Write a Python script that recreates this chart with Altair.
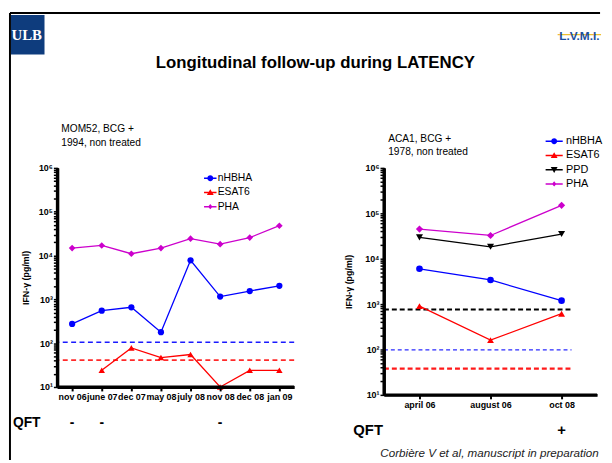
import json
import altair as alt
import pandas as pd

FONT = "Liberation Sans"

# ---------------- data ----------------
left_dates = ["nov 06", "june 07", "dec 07", "may 08", "july 08", "nov 08", "dec 08", "jan 09"]
left_nhbha = [275, 550, 660, 178, 7800, 1160, 1550, 2040]
left_esat6 = [None, 24, 78, 47, 55, 10, 24, 24]
left_pha = [14800, 17000, 11000, 14800, 24300, 18200, 25700, 48000]
left_qft = ["-", "-", "", "", "", "-", "", ""]
left_cut_nhbha = 105
left_cut_esat6 = 41

right_dates = ["april 06", "august 06", "oct 08"]
right_nhbha = [6000, 3400, 1190]
right_esat6 = [900, 161, 615]
right_ppd = [29500, 18300, 35000]
right_pha = [45000, 32500, 150000]
right_qft = ["", "", "+"]
right_cut_ppd = 760
right_cut_nhbha = 98
right_cut_esat6 = 38
right_cut_end = 2.14

left_series = ["nHBHA", "ESAT6", "PHA"]
right_series = ["nHBHA", "ESAT6", "PPD", "PHA"]
series_colors = {"nHBHA": "#0000ff", "ESAT6": "#ff0000", "PPD": "#000000", "PHA": "#cc00cc"}
series_shapes = {"nHBHA": "circle", "ESAT6": "triangle-up", "PPD": "triangle-down", "PHA": "diamond"}

decades = [10, 100, 1000, 10000, 100000, 1000000]
sups = ["¹", "²", "³", "⁴", "⁵", "⁶"]
ytick_vals = [m * 10 ** e for e in range(1, 6) for m in range(1, 10)] + [1000000]

ylabel_expr = ("indexof(" + json.dumps(decades) + ", datum.value) >= 0 ? '10' + "
               + json.dumps(sups, ensure_ascii=False) + "[indexof(" + json.dumps(decades)
               + ", datum.value)] : ''")


def long_table(dates, cols):
    rows = []
    for name, vals in cols.items():
        for i, v in enumerate(vals):
            if v is not None:
                rows.append({"idx": i, "date": dates[i], "series": name, "value": v})
    return pd.DataFrame(rows)


def qft_table(marks):
    return pd.DataFrame([{"idx": i, "qft": q} for i, q in enumerate(marks) if q])


MARKERS = {
    "circle": "M0.47,0A0.47,0.47 0 1,1 -0.47,0A0.47,0.47 0 1,1 0.47,0Z",
    "triangle-up": "M0,-0.52L0.55,0.42L-0.55,0.42Z",
    "triangle-down": "M0,0.52L-0.55,-0.42L0.55,-0.42Z",
    "diamond": "M0,-0.42L0.36,0L0,0.42L-0.36,0Z",
}


def legend_path(shape, half):
    return f"M{-half},-0.12H{half}V0.12H{-half}Z" + MARKERS[shape]


ONE = alt.Data(values=[{}])


def deco_text(txt, x, y, **kw):
    return alt.Chart(ONE).mark_text(**kw).encode(
        x=alt.value(x), y=alt.value(y), text=alt.value(txt))


AXIS_STYLE = dict(domainColor="#000000", domainWidth=3, domainOpacity=1,
                  ticks=True, tickColor="#000000", tickOpacity=1, grid=False, zindex=2)


def y_axis(title_pad):
    return alt.Axis(values=ytick_vals, labelExpr=ylabel_expr, title="IFN-γ (pg/ml)",
                    titleFont=FONT, titleFontSize=9, titleFontWeight="bold", titleColor="black",
                    titlePadding=title_pad, labelFont=FONT, labelFontSize=9,
                    labelFontWeight="bold", labelColor="black", labelPadding=1,
                    labelOverlap=False, tickSize=4, tickWidth=1.5, **AXIS_STYLE)


def x_axis(dates):
    return alt.Axis(values=list(range(len(dates))),
                    labelExpr=json.dumps(dates) + "[datum.value]",
                    title=None, labelFont=FONT, labelFontSize=9, labelFontWeight="bold",
                    labelColor="black", labelPadding=2, labelFlush=False, labelOverlap=False,
                    tickSize=4, tickWidth=2, **AXIS_STYLE)


def panel(dates, cols, series, sizes, leg_half, leg_x, leg_y, leg_font, leg_offset,
          title_pad, width, height, qft, qft_font, qft_x, qft_y, extra):
    table = long_table(dates, cols)
    xs = alt.Scale(domain=[-0.5, len(dates) - 0.5], nice=False, zero=False)
    ys = alt.Scale(type="log", domain=[10, 1000000], nice=False)
    xa = x_axis(dates)
    ya = y_axis(title_pad)
    cols_range = [series_colors[s] for s in series]
    base = alt.Chart(table)
    y_line = alt.Chart(ONE).mark_rule(color="black", strokeWidth=3).encode(
        x=alt.datum(-0.5, scale=xs, axis=xa))
    x_line = alt.Chart(ONE).mark_rule(color="black", strokeWidth=3).encode(
        y=alt.datum(10, scale=ys, axis=ya))
    lines = base.mark_line(strokeWidth=1.3).encode(
        x=alt.X("idx:Q", scale=xs, axis=xa),
        y=alt.Y("value:Q", scale=ys, axis=ya),
        color=alt.Color("series:N", scale=alt.Scale(domain=series, range=cols_range), legend=None),
    )
    points = base.mark_point(filled=True, opacity=1).encode(
        x=alt.X("idx:Q", scale=xs, axis=xa),
        y=alt.Y("value:Q", scale=ys, axis=ya),
        color=alt.Color("series:N", scale=alt.Scale(domain=series, range=cols_range), legend=None),
        shape=alt.Shape("series:N", scale=alt.Scale(domain=series, range=[series_shapes[s] for s in series]), legend=None),
        size=alt.Size("series:N", scale=alt.Scale(domain=series, range=sizes), legend=None),
    )
    leg = dict(orient="none", legendX=leg_x, legendY=leg_y, title=None, padding=0,
               direction="vertical", symbolSize=160, symbolStrokeWidth=0,
               labelFont=FONT, labelFontSize=leg_font, labelColor="black",
               labelOffset=leg_offset, rowPadding=2.4)
    legend_layer = base.mark_point(filled=True, opacity=1).encode(
        color=alt.Color("series:N", scale=alt.Scale(domain=series, range=cols_range), legend=alt.Legend(**leg)),
        shape=alt.Shape("series:N", scale=alt.Scale(domain=series, range=[legend_path(series_shapes[s], leg_half) for s in series]), legend=alt.Legend(**leg)),
    ).transform_filter("false")
    qft_layer = alt.Chart(qft_table(qft)).mark_text(
        font=FONT, fontSize=qft_font, fontWeight="bold", baseline="alphabetic", color="black"
    ).encode(x=alt.X("idx:Q", scale=xs, axis=xa), y=alt.value(qft_y), text="qft:N")
    qft_label = deco_text("QFT", qft_x, qft_y, font=FONT, fontSize=qft_font, fontWeight="bold",
                          align="left", baseline="alphabetic", color="black")
    layers = [*extra(xs, ys, xa, ya), lines, points, y_line, x_line, legend_layer, qft_layer, qft_label]
    return alt.layer(*layers).resolve_scale(
        color="independent", shape="independent", size="independent"
    ).properties(width=width, height=height)


def left_extra(xs, ys, xa, ya):
    r1 = alt.Chart(pd.DataFrame({"value": [left_cut_nhbha]})).mark_rule(
        color="#1a1aff", strokeWidth=1.5, strokeDash=[5, 3.5]).encode(
        y=alt.Y("value:Q", scale=ys, axis=ya))
    r2 = alt.Chart(pd.DataFrame({"value": [left_cut_esat6]})).mark_rule(
        color="#ff2a2a", strokeWidth=1.8, strokeDash=[5, 3.5]).encode(
        y=alt.Y("value:Q", scale=ys, axis=ya))
    sub = deco_text("MOM52, BCG +\n1994, non treated", 4, -36.7, font=FONT, fontSize=10.3,
                    lineBreak="\n", lineHeight=14, align="left", baseline="alphabetic", color="black")
    title = deco_text("Longitudinal follow-up during LATENCY", 261.5, -101, font=FONT, fontSize=17,
                      fontWeight="bold", align="center", baseline="alphabetic", color="black")
    ulb_box = alt.Chart(ONE).mark_rect(color="#0e3c7d").encode(
        x=alt.value(-47), x2=alt.value(-13), y=alt.value(-155), y2=alt.value(-115))
    ulb = deco_text("ULB", -31, -135, font="Liberation Serif", fontSize=15, fontWeight="bold",
                    align="center", baseline="middle", color="white")
    lvmi_line = alt.Chart(ONE).mark_rule(color="#f0c030", strokeWidth=1.2).encode(
        x=alt.value(507), x2=alt.value(551), y=alt.value(-135), y2=alt.value(-135))
    lvmi = deco_text("L.V.M.I.", 529, -134, font=FONT, fontSize=12, fontWeight="bold",
                     align="center", baseline="middle", color="#1c4f9c")
    top_line = alt.Chart(ONE).mark_rule(color="black", strokeWidth=2).encode(
        x=alt.value(-48), x2=alt.value(550), y=alt.value(-157), y2=alt.value(-157))
    left_line = alt.Chart(ONE).mark_rule(color="black", strokeWidth=2).encode(
        x=alt.value(-48), x2=alt.value(-48), y=alt.value(-157), y2=alt.value(296))
    return [r1, r2, sub, title, ulb_box, lvmi_line, ulb, lvmi, top_line, left_line]


def right_extra(xs, ys, xa, ya):
    out = []
    for val, col, w, dash in [(right_cut_ppd, "black", 2.2, [5, 3]),
                              (right_cut_nhbha, "#2a2aff", 1.2, [4, 3]),
                              (right_cut_esat6, "#ff1a1a", 2.2, [5, 3])]:
        out.append(alt.Chart(pd.DataFrame({"value": [val]})).mark_rule(
            color=col, strokeWidth=w, strokeDash=dash).encode(
            x=alt.datum(-0.5, scale=xs, axis=xa), x2=alt.datum(right_cut_end),
            y=alt.Y("value:Q", scale=ys, axis=ya)))
    sub = deco_text("ACA1, BCG +\n1978,  non treated", 4.3, -26.7, font=FONT, fontSize=10.3,
                    lineBreak="\n", lineHeight=14, align="left", baseline="alphabetic", color="black")
    cite = deco_text("Corbière V et al, manuscript in preparation", 217.7, 293, font=FONT,
                     fontSize=11.8, fontStyle="italic", align="right", baseline="alphabetic",
                     color="#222222")
    return out + [sub, cite]


left = panel(left_dates, {"nHBHA": left_nhbha, "ESAT6": left_esat6, "PHA": left_pha},
             left_series, [40, 45, 28], 1.0, 148.5, 4.0, 10.5, 1, 8, 240, 222,
             left_qft, 14, -45, 263, left_extra)

right = panel(right_dates, {"nHBHA": right_nhbha, "ESAT6": right_esat6, "PPD": right_ppd, "PHA": right_pha},
              right_series, [45, 53, 53, 36], 1.37, 166, -33.5, 11, 5.5, 11, 216, 230,
              right_qft, 15, -31, 271, right_extra)

chart = alt.hconcat(left, right, spacing=91, bounds="flush").properties(
    padding={"left": 0, "top": 0, "right": 0, "bottom": 0}
).configure(font=FONT, background="white").configure_view(
    stroke="transparent"
).configure_axis(domainColor="#000000", domainWidth=3, tickColor="#000000")

chart.save("out.html", embed_options={"renderer": "svg", "actions": False})
